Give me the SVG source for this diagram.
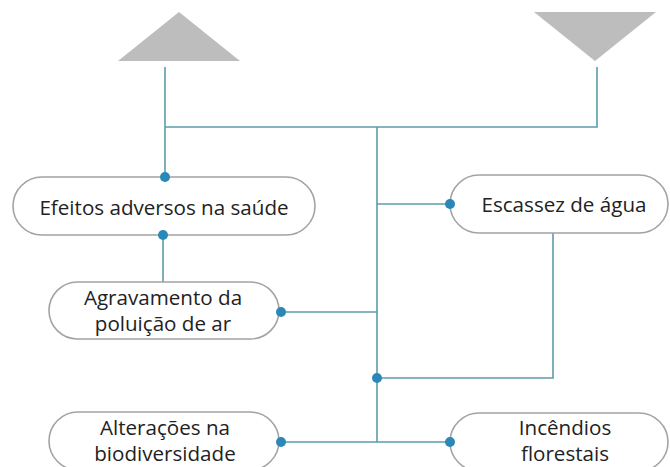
<svg xmlns="http://www.w3.org/2000/svg" width="670" height="467" viewBox="0 0 670 467">
<style>
.node{fill:#fff;stroke:#a3a3a3;stroke-width:1.6}
.t{font-family:"Open Sans","Noto Sans",sans-serif;font-size:20.6px;fill:#222;text-anchor:middle}
.ln{stroke:#5d9caa;stroke-width:1.6;fill:none}
.dot{fill:#2a88b8}
.tri{fill:#bdbdbd}
</style>
<rect width="670" height="467" fill="#fff"/>
<polygon class="tri" points="179,12 240,61 118,61"/>
<polygon class="tri" points="534,12 656,12 595,61"/>
<g id="connectors">
<polyline class="ln" points="165,67 165,177"/>
<polyline class="ln" points="165,127 597,127 597,67"/>
<polyline class="ln" points="377,127 377,442"/>
<polyline class="ln" points="377,204 450,204"/>
<polyline class="ln" points="553,233 553,378 377,378"/>
<polyline class="ln" points="163,235 163,282"/>
<polyline class="ln" points="281,312 377,312"/>
<polyline class="ln" points="281,442 450,442"/>
<circle class="dot" cx="377" cy="378" r="5"/>
</g>
<g id="efeitos">
<rect class="node" x="13" y="177" width="302" height="58" rx="29"/>
<text class="t" x="164" y="215">Efeitos adversos na saúde</text>
<circle class="dot" cx="165" cy="177" r="5"/>
<circle class="dot" cx="163" cy="235" r="5"/>
</g>
<g id="escassez">
<rect class="node" x="450" y="175" width="218" height="58" rx="29"/>
<text class="t" x="564" y="212">Escassez de água</text>
<circle class="dot" cx="450" cy="204" r="5"/>
</g>
<g id="agravamento">
<rect class="node" x="49" y="282" width="230" height="57" rx="28.5"/>
<text class="t" x="163" y="305">Agravamento da</text>
<text class="t" x="163" y="331">poluição de ar</text>
<circle class="dot" cx="281" cy="312" r="5"/>
</g>
<g id="alteracoes">
<rect class="node" x="49" y="412" width="230" height="58" rx="29"/>
<text class="t" x="165" y="435">Alterações na</text>
<text class="t" x="165" y="461">biodiversidade</text>
<circle class="dot" cx="281" cy="442" r="5"/>
</g>
<g id="incendios">
<rect class="node" x="450" y="413" width="218" height="58" rx="29"/>
<text class="t" x="565" y="435">Incêndios</text>
<text class="t" x="565" y="461">florestais</text>
<circle class="dot" cx="450" cy="442" r="5"/>
</g>
</svg>
